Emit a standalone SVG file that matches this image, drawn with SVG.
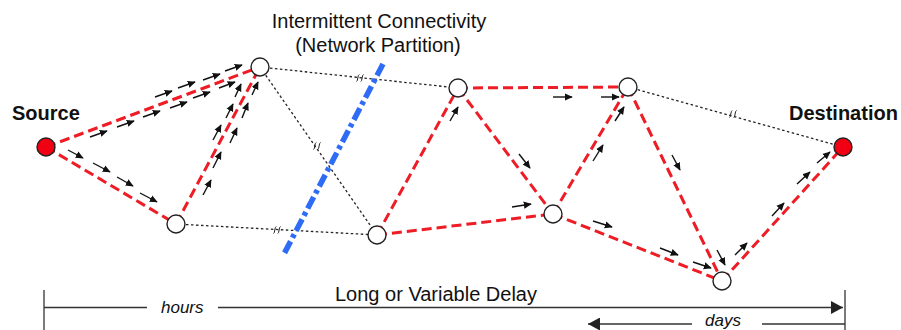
<svg xmlns="http://www.w3.org/2000/svg" width="901" height="330" viewBox="0 0 901 330">
<style>
.red{stroke:#ee1c25;stroke-width:3;stroke-dasharray:10 5;fill:none}
.dot{stroke:#222;stroke-width:1.3;stroke-dasharray:2.5 2.5;fill:none}
.ar{stroke:#111;stroke-width:1.4;fill:none;marker-end:url(#ah)}
.node{fill:#fff;stroke:#222;stroke-width:1.4}
.end{fill:#f00012;stroke:#222;stroke-width:1.4}
.brk{stroke:#222;stroke-width:1;fill:none}
.tl{stroke:#333;stroke-width:1.3;fill:none}
text{font-family:"Liberation Sans",Arial,sans-serif;fill:#111}
.lbl{font-size:20px;font-weight:bold}
.t20{font-size:20px}
.it{font-size:17px;font-style:italic}
</style>
<defs>
<marker id="ah" viewBox="0 0 10 10" refX="9" refY="5" markerWidth="8" markerHeight="8" markerUnits="userSpaceOnUse" orient="auto"><path d="M0,0.5 L10,5 L0,9.5 z" fill="#111"/></marker>
<marker id="big" viewBox="0 0 12 13" refX="12" refY="6.5" markerWidth="12" markerHeight="13" markerUnits="userSpaceOnUse" orient="auto"><path d="M0,0 L12,6.5 L0,13 z" fill="#222"/></marker>
<g id="brkS"><path class="brk" d="M-3.5,3.5 Q-2.5,3 -2.2,0 Q-1.9,-3 -0.8,-3.5 M0.8,3.5 Q1.8,3 2.1,0 Q2.4,-3 3.5,-3.5"/></g>
</defs>

<g id="connectors">
  <!-- dotted (broken) links -->
  <line class="dot" x1="260" y1="67" x2="458" y2="88"/>
  <line class="dot" x1="260" y1="67" x2="377" y2="235"/>
  <line class="dot" x1="176" y1="224" x2="377" y2="235"/>
  <line class="dot" x1="628" y1="87" x2="843" y2="147"/>
  <use href="#brkS" transform="translate(360,78)"/>
  <use href="#brkS" transform="translate(317,146)"/>
  <use href="#brkS" transform="translate(277,230)"/>
  <use href="#brkS" transform="translate(733,114)"/>

  <!-- red dashed path links -->
  <line class="red" x1="46" y1="147" x2="260" y2="67"/>
  <line class="red" x1="46" y1="147" x2="176" y2="224"/>
  <line class="red" x1="176" y1="224" x2="260" y2="67"/>
  <line class="red" x1="377" y1="235" x2="458" y2="88"/>
  <line class="red" x1="377" y1="235" x2="553" y2="214"/>
  <line class="red" x1="458" y1="88" x2="628" y2="87"/>
  <line class="red" x1="458" y1="88" x2="553" y2="214"/>
  <line class="red" x1="553" y1="214" x2="628" y2="87"/>
  <line class="red" x1="553" y1="214" x2="722" y2="281"/>
  <line class="red" x1="628" y1="87" x2="722" y2="281"/>
  <line class="red" x1="722" y1="281" x2="843" y2="147"/>

  <!-- partition -->
  <line x1="383" y1="64" x2="284" y2="254" stroke="#2f6cf6" stroke-width="5.5" stroke-dasharray="13 4 4 4"/>

  <!-- flow arrows -->
  <g id="flow">
    <line class="ar" x1="90" y1="137" x2="107" y2="131"/>
    <line class="ar" x1="117" y1="127" x2="134" y2="121"/>
    <line class="ar" x1="143" y1="117" x2="160" y2="111"/>
    <line class="ar" x1="170" y1="108" x2="187" y2="102"/>
    <line class="ar" x1="193" y1="98" x2="210" y2="92"/>
    <line class="ar" x1="219" y1="88" x2="235" y2="82"/>
    <line class="ar" x1="155" y1="97" x2="172" y2="91"/>
    <line class="ar" x1="178" y1="88" x2="195" y2="82"/>
    <line class="ar" x1="203" y1="80" x2="220" y2="74"/>
    <line class="ar" x1="225" y1="71" x2="242" y2="65"/>

    <line class="ar" x1="68" y1="150" x2="83" y2="158"/>
    <line class="ar" x1="93" y1="163" x2="110" y2="172"/>
    <line class="ar" x1="117" y1="177" x2="133" y2="186"/>
    <line class="ar" x1="140" y1="193" x2="157" y2="202"/>

    <line class="ar" x1="203" y1="195" x2="211" y2="180"/>
    <line class="ar" x1="213" y1="168" x2="221" y2="152"/>
    <line class="ar" x1="213" y1="140" x2="221" y2="125"/>
    <line class="ar" x1="226" y1="118" x2="233" y2="104"/>
    <line class="ar" x1="235" y1="97" x2="241" y2="84"/>
    <line class="ar" x1="230" y1="143" x2="237" y2="128"/>
    <line class="ar" x1="242" y1="118" x2="248" y2="103"/>
    <line class="ar" x1="252" y1="95" x2="258" y2="82"/>

    <line class="ar" x1="450" y1="121" x2="458" y2="107"/>
    <line class="ar" x1="553" y1="97" x2="572" y2="97"/>
    <line class="ar" x1="601" y1="97" x2="619" y2="97"/>
    <line class="ar" x1="519" y1="154" x2="530" y2="168"/>
    <line class="ar" x1="512" y1="207" x2="531" y2="204"/>
    <line class="ar" x1="593" y1="161" x2="603" y2="145"/>
    <line class="ar" x1="615" y1="121" x2="624" y2="107"/>
    <line class="ar" x1="593" y1="221" x2="612" y2="227"/>
    <line class="ar" x1="660" y1="248" x2="678" y2="255"/>
    <line class="ar" x1="693" y1="262" x2="711" y2="268"/>
    <line class="ar" x1="672" y1="155" x2="680" y2="170"/>
    <line class="ar" x1="717" y1="250" x2="725" y2="265"/>
    <line class="ar" x1="735" y1="255" x2="747" y2="243"/>
    <line class="ar" x1="772" y1="216" x2="784" y2="203"/>
    <line class="ar" x1="797" y1="184" x2="810" y2="172"/>
    <line class="ar" x1="817" y1="163" x2="830" y2="152"/>
  </g>

  <!-- timeline -->
  <line class="tl" x1="44" y1="290" x2="44" y2="330"/>
  <line class="tl" x1="845" y1="290" x2="845" y2="330"/>
  <line class="tl" x1="44" y1="307.5" x2="147" y2="307.5"/>
  <line class="tl" x1="218" y1="307.5" x2="843" y2="307.5" marker-end="url(#big)"/>
  <line class="tl" x1="845" y1="324" x2="762" y2="324"/>
  <line class="tl" x1="692" y1="324" x2="588" y2="324" marker-end="url(#big)"/>
</g>

<g id="source"><circle class="end" cx="46" cy="147" r="9"/><text class="lbl" x="12" y="120">Source</text></g>
<g id="destination"><circle class="end" cx="843" cy="147" r="9"/><text class="lbl" x="789" y="120">Destination</text></g>
<g id="n1"><circle class="node" cx="260" cy="67" r="9"/></g>
<g id="n2"><circle class="node" cx="176" cy="224" r="9"/></g>
<g id="n3"><circle class="node" cx="377" cy="235" r="9"/></g>
<g id="n4"><circle class="node" cx="458" cy="88" r="9"/></g>
<g id="n5"><circle class="node" cx="553" cy="214" r="9"/></g>
<g id="n6"><circle class="node" cx="628" cy="87" r="9"/></g>
<g id="n7"><circle class="node" cx="722" cy="281" r="9"/></g>

<g id="labels">
  <text class="t20" x="379" y="28" text-anchor="middle">Intermittent Connectivity</text>
  <text class="t20" x="378" y="52" text-anchor="middle">(Network Partition)</text>
  <text class="t20" x="335" y="301">Long or Variable Delay</text>
  <text class="it" x="161" y="313">hours</text>
  <text class="it" x="705" y="326">days</text>
</g>
</svg>
